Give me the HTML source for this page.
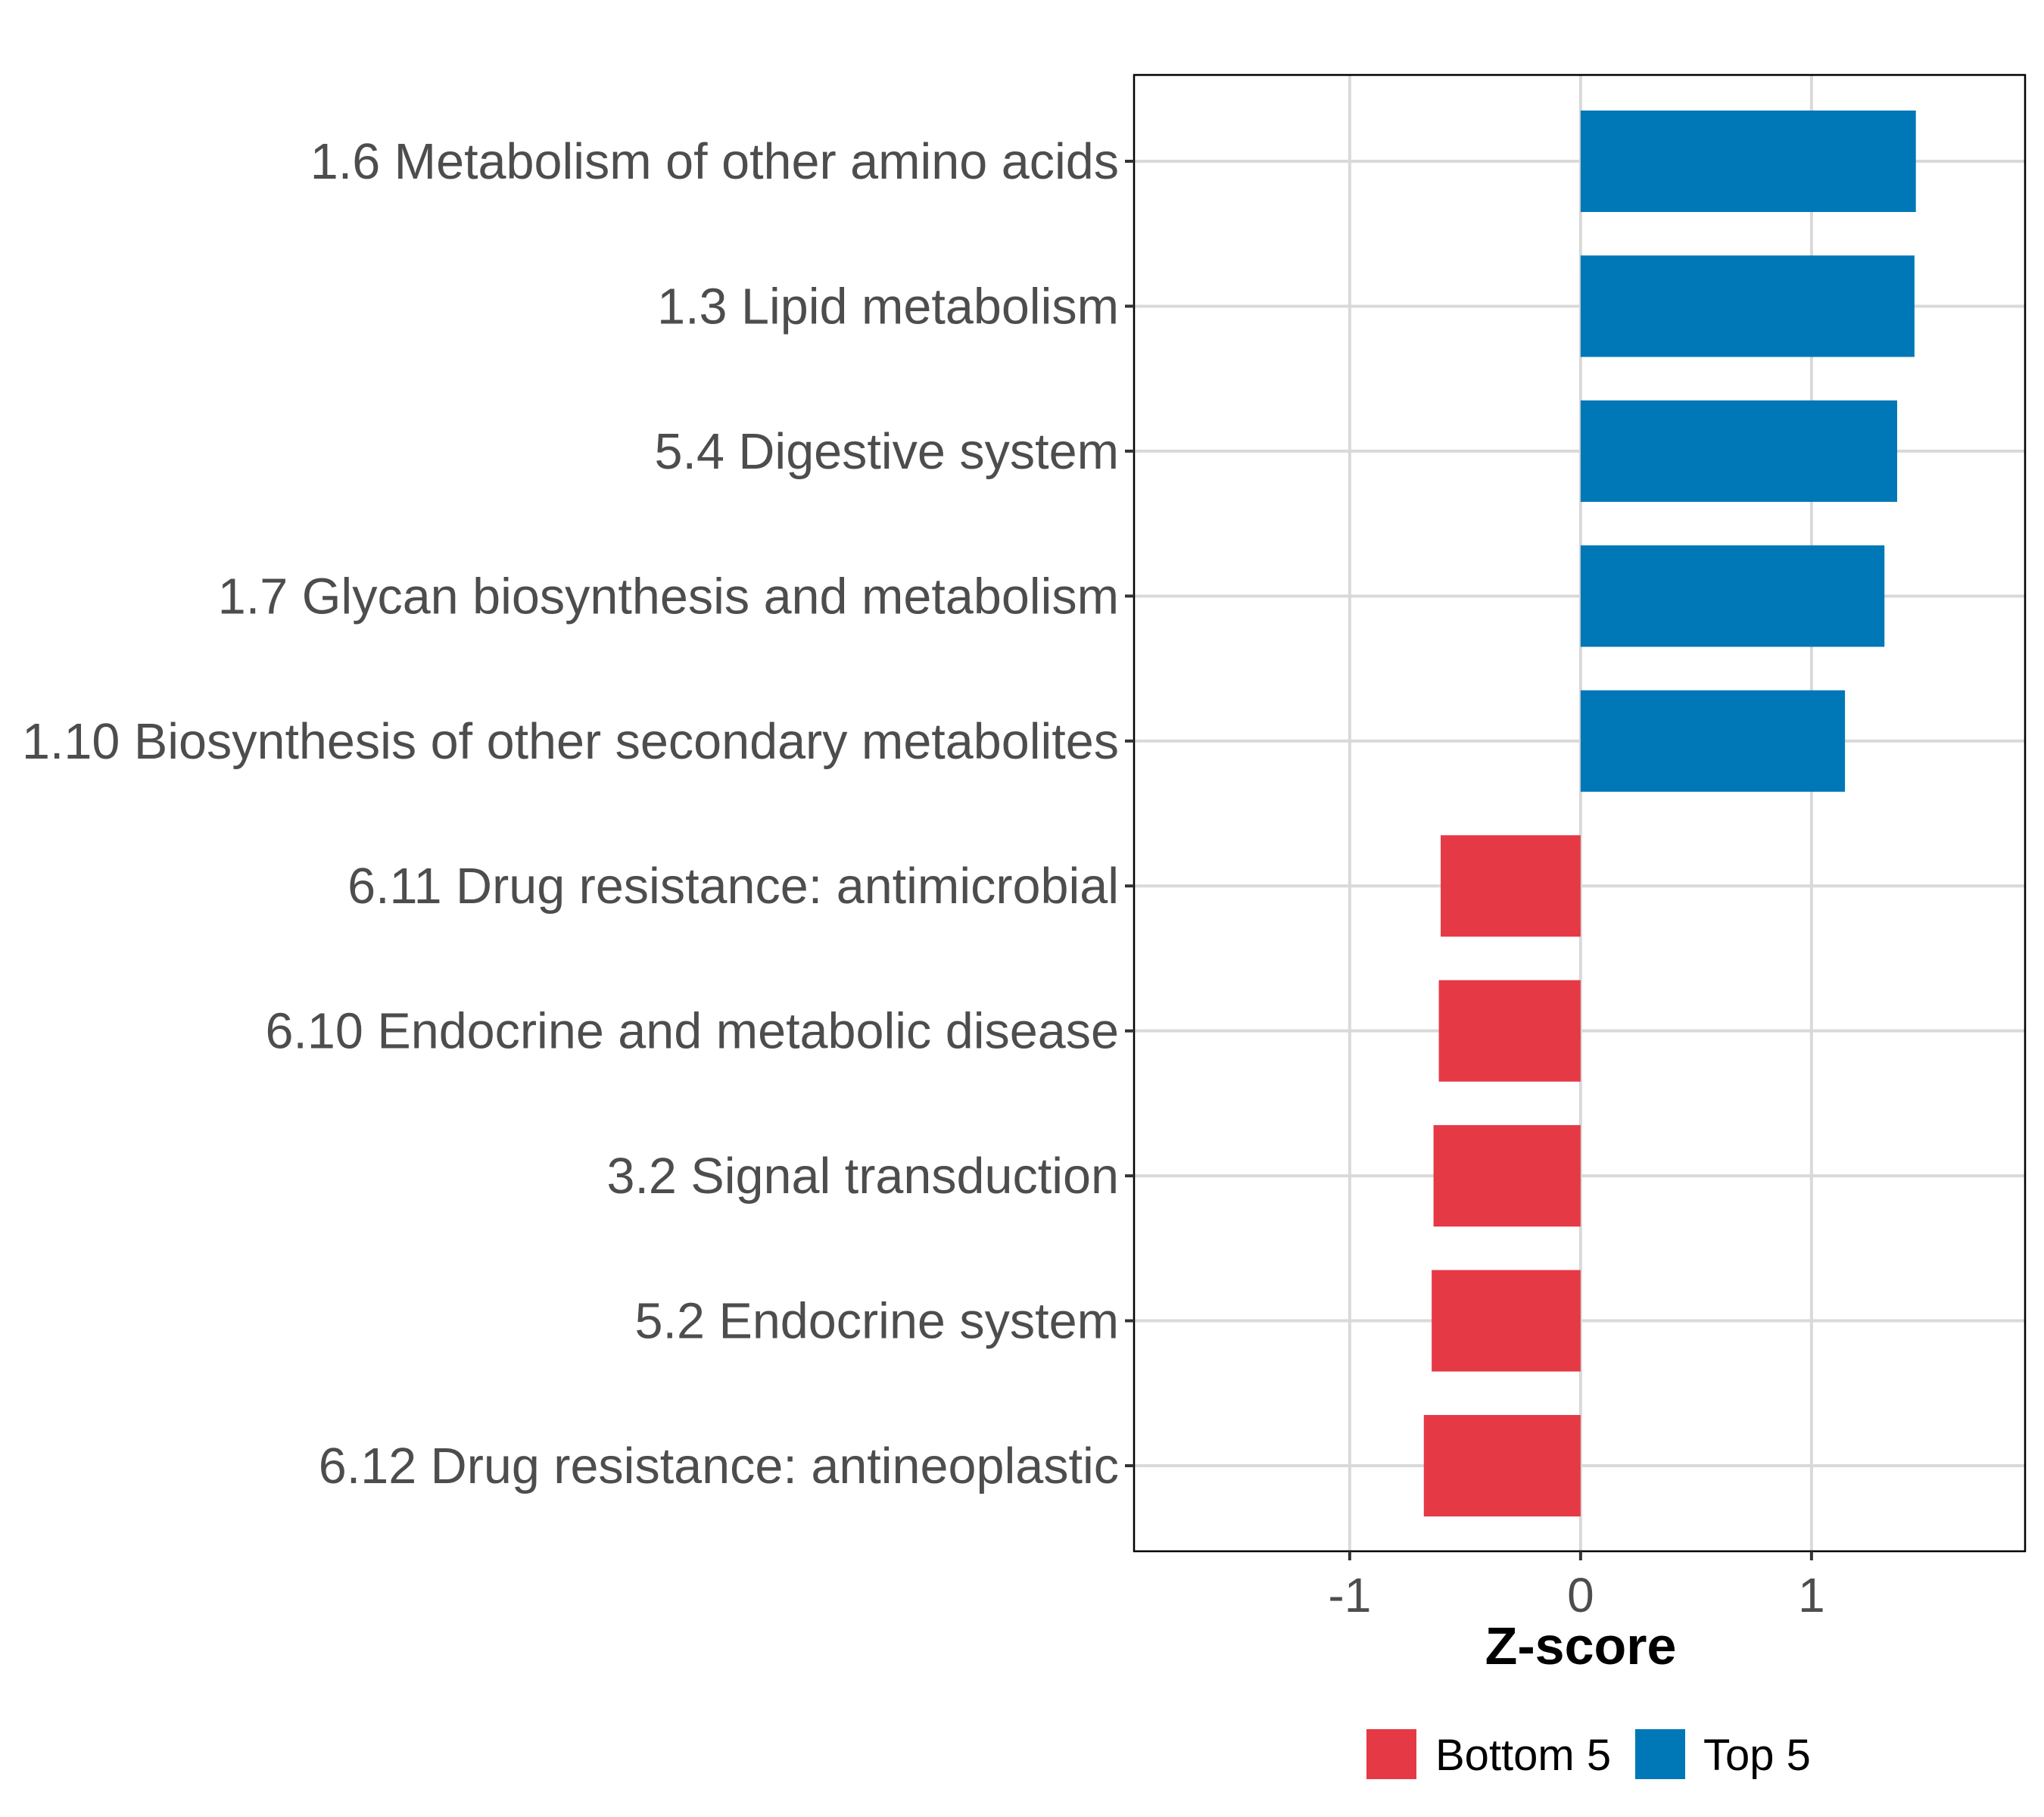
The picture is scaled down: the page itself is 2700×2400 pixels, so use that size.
<!DOCTYPE html>
<html><head><meta charset="utf-8"><style>
html,body{margin:0;padding:0;background:#fff;}
svg{display:block;font-family:"Liberation Sans",Arial,sans-serif;}
</style></head><body>
<svg id="chart" width="2700" height="2400" viewBox="0 0 2700 2400">
<rect x="0" y="0" width="2700" height="2400" fill="#fff"/>
<g id="grid"></g>
<g id="bars"></g>
<rect x="1498" y="99" width="1177" height="1950" fill="none" stroke="#000" stroke-width="2.5"/>
<g id="yaxis"></g>
<g id="xaxis"></g>
<text x="2088" y="2198" text-anchor="middle" font-size="70" font-weight="bold" fill="#000">Z-score</text>
<g>
<rect x="1805" y="2284" width="66" height="66" fill="#E63946"/>
<text x="1896" y="2338" font-size="58" fill="#000">Bottom 5</text>
<rect x="2160" y="2284" width="66" height="66" fill="#0077B6"/>
<text x="2250" y="2338" font-size="58" fill="#000">Top 5</text>
</g>
</svg>
<script>
const categories = ["1.6 Metabolism of other amino acids","1.3 Lipid metabolism","5.4 Digestive system","1.7 Glycan biosynthesis and metabolism","1.10 Biosynthesis of other secondary metabolites","6.11 Drug resistance: antimicrobial","6.10 Endocrine and metabolic disease","3.2 Signal transduction","5.2 Endocrine system","6.12 Drug resistance: antineoplastic"];
const values = [1.452, 1.446, 1.371, 1.316, 1.145, -0.606, -0.614, -0.637, -0.645, -0.679];
const groups = ["Top 5","Top 5","Top 5","Top 5","Top 5","Bottom 5","Bottom 5","Bottom 5","Bottom 5","Bottom 5"];
const xTicks = [-1, 0, 1];
const xTickLabels = ["-1", "0", "1"];

const NS = "http://www.w3.org/2000/svg";
const px0 = 1498, px1 = 2675, py0 = 99, py1 = 2049;
const xMin = -1.934, xMax = 1.925;
function xs(v){ return px0 + (v - xMin) / (xMax - xMin) * (px1 - px0); }
const firstY = 213, step = (1936 - 213) / 9;
function ys(i){ return firstY + i * step; }
const barH = step * 0.7;
const colors = {"Top 5":"#0077B6","Bottom 5":"#E63946"};
function mk(tag, attrs, parent){ const e = document.createElementNS(NS, tag); for (const k in attrs) e.setAttribute(k, attrs[k]); parent.appendChild(e); return e; }

const grid = document.getElementById("grid");
xTicks.forEach((t) => {
  const l = mk("line", {x1: xs(t), x2: xs(t), y1: py0, y2: py1, stroke: "#d9d9d9", "stroke-width": 4}, grid);
  
  
});
categories.forEach((c, i) => {
  const l = mk("line", {x1: px0, x2: px1, y1: ys(i), y2: ys(i), stroke: "#d9d9d9", "stroke-width": 4}, grid);
  
  
});

const bars = document.getElementById("bars");
values.forEach((v, i) => {
  const x = Math.min(xs(0), xs(v)), w = Math.abs(xs(v) - xs(0));
  const r = mk("rect", {x: x, y: ys(i) - barH / 2, width: w, height: barH, fill: colors[groups[i]]}, bars);
  
  
});

const yaxis = document.getElementById("yaxis");
categories.forEach((c, i) => {
  const tk = mk("line", {x1: px0 - 12, x2: px0, y1: ys(i), y2: ys(i), stroke: "#333", "stroke-width": 4}, yaxis);
  
  
  const t = mk("text", {x: px0 - 20, y: ys(i) + 23, "text-anchor": "end", "font-size": 66.5, fill: "#4d4d4d"}, yaxis);
  t.textContent = c;
  
  
});

const xaxis = document.getElementById("xaxis");
xTicks.forEach((t, i) => {
  const tk = mk("line", {x1: xs(t), x2: xs(t), y1: py1, y2: py1 + 12, stroke: "#333", "stroke-width": 4}, xaxis);
  
  
  const lb = mk("text", {x: xs(t), y: 2129, "text-anchor": "middle", "font-size": 64, fill: "#4d4d4d"}, xaxis);
  lb.textContent = xTickLabels[i];
  
  
});
</script>
</body></html>
